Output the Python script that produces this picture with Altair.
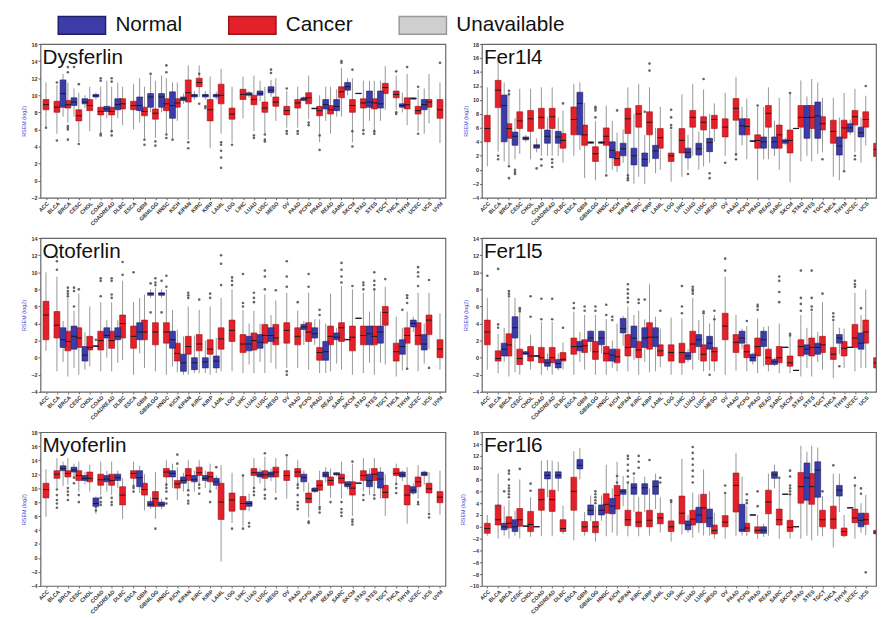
import altair as alt
import pandas as pd

CATS = ["ACC","BLCA","BRCA","CESC","CHOL","COAD","COADREAD","DLBC","ESCA","GBM","GBMLGG","HNSC",
        "KICH","KIPAN","KIRC","KIRP","LAML","LGG","LIHC","LUAD","LUSC","MESO","OV","PAAD","PCPG",
        "PRAD","READ","SARC","SKCM","STAD","STES","TGCT","THCA","THYM","UCEC","UCS","UVM"]
NORMAL_CATS = ["BLCA","BRCA","CESC","CHOL","COAD","COADREAD","ESCA","GBM","GBMLGG","HNSC","KICH",
               "KIPAN","KIRC","KIRP","LIHC","LUAD","LUSC","PAAD","PCPG","PRAD","READ","SARC","SKCM",
               "STAD","STES","THCA","THYM","UCEC"]
GROUPS = ["Normal", "Cancer", "Unavailable"]
COLORS = ["#3c3ca8", "#e4202a", "#cfcfcf"]
EDGES = ["#20206a", "#9a1418", "#999999"]

# (lower whisker, q1, median, q3, upper whisker)
DYSF_C = [(6.3,8.3,8.9,9.5,11.5),(5.5,8.0,8.6,9.3,11.2),(6.8,8.5,8.9,9.4,11.5),(4.5,7.0,7.6,8.3,10.3),
          (5.8,8.2,8.8,9.5,11.0),(5.6,7.7,8.1,8.6,11.0),(5.6,7.7,8.1,8.6,11.0),(6.5,8.4,9.0,9.6,11.0),
          (6.0,8.3,8.8,9.3,11.3),(5.0,7.6,8.1,8.6,11.0),(5.0,7.2,7.9,8.4,11.7),(5.5,8.2,9.0,9.6,12.0),
          (7.0,8.6,9.1,9.6,11.5),(4.8,9.2,10.3,11.8,13.5),(9.8,11.0,11.5,12.0,13.5),(3.8,7.0,8.3,9.5,12.2),
          (5.5,9.0,10.0,11.3,13.1),(4.5,7.2,7.8,8.5,11.0),(7.3,9.5,10.1,10.7,12.2),(5.8,8.9,9.5,10.0,12.3),
          (5.5,8.0,8.5,9.2,11.0),(7.0,8.7,9.2,9.8,12.0),(6.2,7.7,8.2,8.7,10.5),(6.2,8.5,9.1,9.5,11.0),
          (7.2,9.0,9.7,10.3,12.3),(4.5,7.6,8.2,8.7,10.0),(5.5,7.8,8.3,8.8,11.0),(7.5,9.7,10.4,11.0,13.2),
          (4.5,8.0,8.8,9.5,12.0),(6.0,8.5,9.1,9.6,11.7),(5.5,8.4,9.1,9.6,11.7),(8.3,10.2,10.9,11.4,13.4),
          (8.3,9.7,10.1,10.5,12.3),(6.5,8.4,8.9,9.7,12.5),(5.8,7.8,8.2,8.7,10.7),(6.7,8.6,9.2,9.5,12.5),
          (4.4,7.3,8.3,9.5,11.5)]
DYSF_N = [(7.5,8.6,10.2,11.8,12.5),(7.5,8.8,9.2,9.7,10.8),(8.5,9.0,9.2,9.6,10.0),(9.5,9.8,9.95,10.1,10.3),
          (7.3,8.1,8.4,8.7,11.7),(7.3,8.3,8.9,9.6,11.5),(6.8,8.2,8.8,9.8,12.0),(8.0,8.6,9.8,10.2,12.3),
          (8.0,8.6,9.8,10.2,12.3),(5.0,7.3,8.8,10.4,11.5),(9.0,9.4,9.6,9.8,10.2),(9.5,9.8,10.0,10.1,10.5),
          (9.5,9.8,10.0,10.1,10.5),(9.5,9.8,10.0,10.1,10.4),(9.7,10.0,10.1,10.3,10.5),(9.3,10.0,10.2,10.5,11.7),
          (9.8,10.3,10.6,11.0,11.8),(9.3,9.4,9.6,9.7,9.9),(8.4,8.4,8.45,8.5,8.5),(7.0,8.4,8.9,9.5,11.0),
          (7.5,8.2,8.7,9.5,10.7),(10.0,10.6,11.0,11.5,12.0),(10.2,10.2,10.2,10.25,10.25),(7.0,8.6,9.2,10.5,11.7),
          (7.0,8.5,9.0,10.5,11.7),(8.0,8.6,8.8,9.0,10.3),(9.5,9.55,9.6,9.7,9.7),(5.5,8.3,8.9,9.5,10.8)]
DYSF_OC = {"ACC":[6.2],"BLCA":[4.7,11.5],"BRCA":[6.0,6.2,6.4,4.8,12.7,13.3],"CESC":[4.3,11.3],
           "COAD":[5.3,5.5,12.0,11.7],"COADREAD":[5.3,5.8,12.0,11.6],"GBM":[4.2,4.8],"GBMLGG":[4.1,4.6],
           "HNSC":[5.0,5.4,12.7,13.5],"KIPAN":[4.5,3.8],"KIRC":[9.0,12.5],"LAML":[4.5,4.2,3.5,2.7,1.5],
           "LGG":[4.2],"LUAD":[5.3,5.0],"LUSC":[4.6,4.8,5.4],"OV":[5.5,5.8,10.8],"PAAD":[5.5,5.8],
           "PCPG":[6.5,6.8],"PRAD":[3.6,5.3],"SARC":[14.0,13.8],"SKCM":[4.0,5.8,13.0],"STAD":[5.5,5.9],
           "STES":[5.5,5.8],"THCA":[7.8,8.0,12.8],"THYM":[13.3],"UCEC":[11.0,5.5],"UVM":[13.8]}
DYSF_ON = {"BRCA":[13.3],"GBM":[12.5],"LUSC":[12.6,13.0],"KIRC":[8.7,8.5],"HNSC":[4.8]}

FER1L4_C = [(0.5,4.0,5.9,7.8,11.8),(2.6,8.9,11.4,12.8,15.6),(0.7,4.5,5.9,6.6,11.1),(2.3,5.9,7.0,8.3,11.6),
            (1.5,5.5,7.3,8.5,11.6),(2.0,5.9,7.5,8.8,11.8),(2.0,5.9,7.6,8.8,11.8),(1.0,3.1,4.2,5.2,8.5),
            (2.0,5.0,7.2,9.0,12.3),(-1.2,3.5,5.0,6.4,9.6),(-1.5,1.2,2.3,3.3,7.0),(-0.5,3.5,4.8,6.0,9.2),
            (-0.3,0.6,1.6,2.6,5.3),(-1.5,5.2,7.3,8.8,11.8),(-1.0,6.1,8.0,9.2,12.3),(1.0,5.0,6.8,8.3,11.8),
            (0.0,3.1,4.6,5.9,9.0),(-1.7,1.2,2.0,2.4,5.7),(-1.0,2.4,4.2,5.9,10.8),(2.0,6.1,7.5,8.5,12.3),
            (0.5,5.7,6.8,7.6,11.5),(4.0,5.9,7.2,7.8,9.5),(2.0,4.7,6.1,7.3,11.0),(2.0,7.1,8.8,10.2,13.3),
            (1.5,5.0,6.2,7.3,10.2),(-1.5,3.1,4.2,5.0,9.0),(1.5,6.1,8.1,9.2,11.8),(0.0,3.1,5.0,6.4,10.3),
            (-1.8,2.4,4.2,5.7,11.0),(1.2,6.1,7.5,9.2,12.8),(1.2,5.9,7.5,9.2,13.0),(2.5,5.7,6.6,7.6,10.3),
            (-1.0,3.8,5.5,7.1,10.3),(0.0,4.5,6.0,7.1,11.0),(2.5,6.4,7.6,8.5,11.6),(3.5,6.1,7.2,8.3,10.6),
            (0.0,1.9,2.9,3.8,6.0)]
FER1L4_N = [(1.2,4.0,9.2,10.7,12.5),(1.5,3.5,4.8,5.4,7.4),(4.0,4.3,4.5,4.7,5.0),(2.5,3.1,3.4,3.6,4.5),
            (2.0,3.8,4.8,5.7,7.5),(2.0,3.8,4.7,5.5,7.5),(2.8,5.0,9.5,11.1,12.5),(3.7,3.8,3.9,4.0,4.1),
            (3.7,3.8,3.9,4.0,4.1),(0.0,1.7,2.8,4.0,7.0),(1.0,2.0,3.0,3.8,5.8),(-2.0,0.7,2.0,3.1,8.0),
            (-2.0,0.5,1.5,2.4,5.0),(-0.5,1.6,2.7,3.5,6.0),(0.0,1.7,2.5,3.1,5.0),(0.0,2.1,3.0,3.8,5.5),
            (1.0,2.6,3.9,4.5,8.0),(3.5,5.0,6.3,7.3,9.0),(4.0,4.05,4.1,4.15,4.2),(1.5,3.1,4.0,4.7,9.0),
            (2.0,3.1,4.0,4.7,7.0),(3.5,3.8,4.1,4.3,4.6),(5.9,5.9,5.9,5.95,5.95),(2.0,4.5,7.5,9.2,10.5),
            (2.3,4.5,7.7,9.7,12.5),(-1.5,2.1,3.4,4.7,7.5),(5.0,5.4,6.0,6.6,7.2),(1.0,4.7,5.3,6.1,7.5)]
FER1L4_OC = {"BLCA":[1.5,2.0],"BRCA":[11.3,10.8,-1.2,0.5],"COAD":[1.5,0.6],"COADREAD":[1.0,0.4,1.5],
             "DLBC":[9.5],"GBMLGG":[8.5,9.0,7.5,8.8],"HNSC":[-0.8],"KICH":[8.5],"KIPAN":[-1.2,-0.8,-1.5],
             "KIRP":[15.2,14.2],"LGG":[8.6,7.5,6.0,6.4],"LUSC":[13.0],"OV":[1.0],"PAAD":[1.5,2.2],
             "PRAD":[9.2],"SKCM":[11.0],"TGCT":[1.5],"THYM":[-0.2],"UCEC":[2.0,1.5],"UCS":[12.0]}
FER1L4_ON = {"BRCA":[-0.3,-0.6,0.0],"CHOL":[0.2],"LIHC":[-0.6],"LUSC":[-0.5,-1.2],"KIRC":[8.3]}

OTOF_C = [(0.8,2.1,5.0,6.6,10.0),(-1.6,2.3,3.8,5.4,9.5),(-2.2,0.8,1.9,3.1,7.0),(-2.0,1.2,2.3,3.5,7.5),
          (-1.0,0.9,1.2,2.5,6.0),(-1.6,0.9,2.0,3.1,6.5),(-1.6,1.1,2.0,3.1,6.5),(-0.3,2.3,4.0,5.0,9.0),
          (-2.0,1.1,2.5,3.7,6.5),(-1.2,2.1,3.0,4.4,7.4),(-1.6,1.5,3.0,4.1,8.2),(-2.0,1.7,3.0,4.1,8.0),
          (-1.7,-0.4,0.5,1.7,3.3),(-2.0,0.4,1.3,2.5,6.0),(-1.8,0.8,1.6,2.7,5.6),(-2.0,0.4,1.0,2.1,6.0),
          (-1.6,1.0,2.2,3.5,7.0),(-1.6,1.9,3.2,4.4,8.0),(-1.8,0.6,1.6,2.7,5.6),(-1.8,0.9,2.0,2.9,5.5),
          (-1.8,1.7,2.6,3.9,7.4),(-1.3,1.5,2.3,3.9,6.7),(-1.2,1.7,3.2,4.1,7.6),(-1.2,1.5,2.5,3.5,5.5),
          (-1.4,1.9,3.0,4.1,7.6),(-1.8,-0.3,0.6,1.2,4.5),(-1.6,1.5,2.5,3.7,7.5),(-1.4,1.9,3.5,4.1,8.4),
          (-2.0,0.8,2.4,3.7,8.0),(-1.8,1.5,2.6,3.7,7.6),(-2.0,1.5,2.5,3.7,8.0),(-0.8,3.8,5.3,6.0,8.3),
          (-2.2,-0.4,0.7,1.7,4.8),(-1.4,1.7,2.6,3.5,5.4),(-1.6,1.5,2.6,4.1,7.6),(1.0,2.7,4.4,5.0,7.6),
          (-1.4,0.0,1.0,2.1,5.2)]
OTOF_N = [(-0.5,1.2,2.1,3.5,4.3),(-1.2,1.0,2.5,3.7,5.5),(-1.4,-0.4,0.3,1.3,3.0),(1.3,1.3,1.35,1.4,1.4),
          (0.0,2.3,2.6,3.5,4.4),(-0.6,2.1,2.5,3.5,4.4),(0.5,2.1,3.0,4.1,7.0),(7.0,7.3,7.5,7.6,8.0),
          (7.0,7.3,7.5,7.6,8.0),(-1.0,1.1,2.1,3.1,5.6),(-2.0,-1.6,-0.6,0.4,2.5),(-1.8,-1.4,-0.6,0.0,2.6),
          (-1.8,-1.2,-0.5,0.0,2.0),(-1.8,-1.2,-0.4,0.2,2.3),(-0.8,0.8,1.6,2.5,4.0),(-0.5,1.1,1.8,2.7,4.0),
          (-0.6,1.9,2.6,3.5,5.0),(1.5,3.3,3.6,3.9,4.3),(1.5,2.3,2.8,3.5,4.5),(-1.8,-0.3,0.7,1.9,4.0),
          (-0.7,2.1,2.4,2.9,3.5),(2.1,2.1,2.1,2.15,2.15),(4.6,4.6,4.6,4.65,4.65),(-0.6,1.5,2.8,3.7,5.4),
          (-0.6,1.7,3.0,3.7,5.4),(-1.5,0.4,1.3,2.1,3.5),(3.0,3.6,4.0,4.4,4.8),(-0.7,0.9,1.6,2.7,4.0)]
OTOF_OC = {"BLCA":[10.3,11.3,11.8],"BRCA":[7.2,7.5,7.8,8.2],"CESC":[8.0],"COAD":[7.2,9.3,9.0],
           "COADREAD":[7.0,7.4,9.3,9.0],"DLBC":[9.7,11.2],"ESCA":[10.0],"GBMLGG":[8.5,8.8,9.3],
           "HNSC":[8.3,9.6],"KIPAN":[7.0,7.3,7.6],"KIRC":[6.8],"KIRP":[7.0,7.5],"LAML":[8.5,11.0,12.0],
           "LGG":[8.5,9.0,9.4],"LIHC":[6.0,6.4,9.8],"LUAD":[6.5,7.0,7.6],"LUSC":[8.0,9.5,10.2],
           "MESO":[7.9],"OV":[8.3,9.5,11.3,-1.6,-2.0],"PAAD":[6.5],"PCPG":[9.8,8.3],"PRAD":[5.6,5.0],
           "SARC":[8.8,9.5,10.3,11.1],"SKCM":[8.4],"STAD":[8.0,8.5,8.8],"STES":[8.0,8.5,9.0,10.0],
           "TGCT":[9.2],"THYM":[6.4,7.0,7.3,-1.3],"UCEC":[8.4,9.5,10.0,10.6],"UCS":[9.1,-1.2]}
OTOF_ON = {"BRCA":[7.8,8.2,6.0],"GBM":[8.7,5.3],"GBMLGG":[5.3,9.0],"THCA":[5.6],"CHOL":[2.1]}

FER1L5_C = [(-1.4,1.5,3.0,4.4,7.0),(-1.8,-0.4,-0.1,0.8,2.8),(-2.2,0.2,1.5,2.8,7.0),(-2.0,-0.8,-0.1,1.0,5.2),
            (-1.4,-0.4,0.2,1.3,2.7),(-2.0,-0.6,0.0,1.2,4.2),(-2.0,-0.6,0.0,1.2,4.2),(-1.4,-0.4,-0.2,0.6,1.8),
            (-2.0,0.4,1.3,2.3,5.4),(-1.4,0.6,1.4,2.1,5.0),(-2.0,-0.2,0.7,1.9,5.0),(-2.0,-0.4,0.5,1.3,4.5),
            (-1.6,-0.6,0.1,1.0,4.0),(-1.6,0.2,1.2,2.7,6.0),(-2.0,0.0,0.9,1.9,5.5),(-1.7,1.0,2.4,4.1,8.6),
            (-1.1,0.2,0.8,1.5,3.4),(-2.0,-0.4,0.6,1.5,4.7),(-2.0,-0.6,0.6,1.7,4.6),(-1.4,0.6,1.6,3.1,7.0),
            (-1.6,-0.4,0.4,1.5,5.0),(-1.6,-0.4,0.7,1.2,5.0),(-2.0,2.1,3.7,5.2,9.5),(-1.5,0.6,1.8,2.7,5.0),
            (-1.6,0.0,0.7,1.5,3.7),(-1.8,0.2,1.3,2.3,4.6),(-1.6,-0.8,0.0,1.0,3.7),(-1.8,-0.6,0.0,1.3,4.0),
            (-1.8,-1.0,-0.6,0.2,2.5),(-2.2,0.2,1.3,2.1,5.0),(-2.2,0.2,1.2,2.3,5.4),(-1.4,0.6,1.5,2.5,6.5),
            (-2.4,-0.2,0.4,1.2,4.2),(-1.2,0.2,1.1,1.9,3.4),(-1.6,1.2,2.3,3.9,7.6),(-1.2,1.7,3.0,4.4,8.0),
            (-2.0,-1.2,-0.6,0.0,1.3)]
FER1L5_N = [(-0.5,0.2,1.0,1.7,3.5),(-1.7,2.3,3.5,4.8,7.0),(0.3,0.4,0.5,0.7,0.8),(0.15,0.15,0.2,0.25,0.25),
            (-1.5,-1.0,-0.6,-0.2,0.5),(-1.5,-1.2,-0.7,-0.2,0.5),(-0.5,0.8,1.3,1.9,3.0),(0.7,1.9,2.3,3.1,3.2),
            (0.5,1.5,2.3,3.1,3.2),(-1.2,-0.4,0.3,1.0,2.0),(1.4,2.9,3.4,4.6,4.9),(-0.3,1.2,2.3,3.7,5.0),
            (-0.5,1.2,2.3,3.5,4.5),(-1.6,1.3,2.4,3.5,4.8),(-0.5,-0.2,0.2,0.6,1.0),(-0.3,1.3,2.1,2.7,4.4),
            (-1.5,1.0,1.7,2.5,4.0),(1.0,1.7,2.3,3.1,3.4),(-0.8,-0.4,0.0,0.4,0.6),(-1.0,1.3,2.1,3.1,3.6),
            (-1.0,-0.8,-0.5,-0.2,0.0),(1.2,1.2,1.2,1.25,1.25),(-1.5,-1.5,-1.5,-1.45,-1.45),(-1.2,0.4,1.0,1.5,3.5),
            (-0.5,0.4,1.2,1.7,3.0),(0.4,1.7,2.3,2.7,3.5),(1.2,1.2,1.2,1.25,1.25),(-1.2,1.0,1.7,2.9,5.0)]
FER1L5_OC = {"ACC":[9.6],"BLCA":[3.5,3.9,10.4],"BRCA":[7.2,7.5,7.8],"CESC":[5.4,5.6,5.8],"CHOL":[4.8,7.2],
             "COAD":[4.5,6.9],"COADREAD":[4.5,6.9],"DLBC":[3.5],"ESCA":[5.8,6.4],"GBM":[5.5,6.0],
             "GBMLGG":[5.5,6.0],"HNSC":[5.0,6.2],"KIPAN":[6.5,7.0,7.5,8.0,8.6],"KIRC":[6.4,6.8],
             "LAML":[5.5],"LIHC":[5.2,6.0,8.4],"LUAD":[7.5,7.8,8.0,8.3],"LUSC":[5.2,5.4],"MESO":[4.5,5.5],
             "OV":[10.2,11.6],"PCPG":[4.3],"PRAD":[5.6,6.0,6.2],"SARC":[6.5,7.7,9.0,9.5],"SKCM":[2.6,2.8],
             "STAD":[5.5,6.3,7.0,10.2],"STES":[5.6,6.0,7.0,10.2],"TGCT":[7.5],"THCA":[4.4,4.8,5.2],
             "UCEC":[8.3,8.6,9.0]}
FER1L5_ON = {"HNSC":[4.4,4.8],"LUSC":[-2.0],"THCA":[-1.0],"UCEC":[5.8],"KIRC":[6.8]}

MYOF_C = [(5.9,8.6,9.8,10.7,12.7),(10.0,11.4,12.0,12.5,14.3),(10.5,11.6,12.1,12.5,14.3),(9.5,11.1,11.8,12.5,13.8),
          (9.5,10.9,11.4,12.3,13.3),(9.0,10.4,11.2,12.0,13.8),(9.0,10.4,11.1,12.0,13.8),(5.6,7.6,9.0,10.2,11.4),
          (10.0,11.4,12.1,12.5,13.8),(6.8,9.0,9.8,10.7,12.0),(5.6,7.4,8.5,9.5,12.3),(10.0,11.6,12.3,12.8,14.0),
          (8.3,10.0,10.6,11.1,13.0),(9.5,11.1,11.8,12.8,14.0),(10.5,11.8,12.2,13.0,14.0),(9.5,10.9,11.6,12.3,13.5),
          (-0.5,5.5,8.0,10.7,13.3),(5.0,6.7,8.3,9.3,12.2),(4.5,6.9,7.8,8.8,12.0),(10.0,11.8,12.2,12.8,14.3),
          (10.0,11.4,11.9,12.5,14.5),(9.3,11.6,12.3,13.0,14.3),(8.5,11.1,11.8,12.5,14.5),(10.0,11.6,12.3,12.8,14.0),
          (5.8,7.9,8.5,9.3,10.8),(7.5,9.7,10.4,11.1,12.5),(8.6,10.4,11.1,11.6,12.8),(8.5,10.7,11.4,12.0,13.8),
          (6.0,9.0,10.0,10.9,13.5),(9.5,11.1,11.8,12.5,14.3),(9.3,11.1,12.0,12.8,14.3),(6.0,8.6,9.4,10.4,12.0),
          (10.6,11.8,12.1,12.8,13.5),(4.9,7.6,9.0,10.4,13.0),(8.5,10.2,10.9,11.6,13.3),(6.5,9.3,9.9,10.7,12.3),
          (6.2,7.9,8.7,9.5,12.5)]
MYOF_N = [(10.3,12.5,12.8,13.2,13.8),(11.5,12.3,12.6,13.0,13.5),(10.5,11.1,11.4,11.8,12.3),(6.3,7.4,7.8,8.6,8.8),
          (9.5,10.9,11.3,11.8,12.5),(10.0,11.1,11.5,12.0,12.5),(9.3,10.2,11.5,12.5,13.2),(7.0,7.4,7.7,8.1,8.7),
          (7.0,7.4,7.7,8.0,8.5),(10.0,11.6,12.1,12.5,13.5),(9.5,10.7,11.1,11.6,12.2),(9.5,10.9,11.2,11.8,12.5),
          (10.0,11.1,11.4,11.8,12.5),(9.8,10.4,10.9,11.4,11.8),(6.7,7.4,7.8,8.1,9.2),(10.7,11.6,11.9,12.3,12.8),
          (11.0,11.6,12.0,12.3,12.8),(9.5,10.9,11.5,12.0,12.5),(9.3,9.5,9.7,10.0,10.2),(10.8,11.6,11.9,12.3,13.0),
          (11.7,11.9,12.0,12.2,12.3),(9.8,10.2,10.5,10.9,11.0),(10.7,10.7,10.7,10.75,10.75),(9.0,10.2,11.1,12.0,12.8),
          (8.5,10.0,11.3,12.3,13.0),(11.0,11.6,11.9,12.3,12.5),(9.0,9.3,9.7,10.2,10.7),(10.5,11.8,12.0,12.3,12.5)]
MYOF_OC = {"BLCA":[7.2,7.8,8.3,9.0,9.8],"BRCA":[8.3,9.0,9.5,10.0],"CESC":[8.0,9.0],"COAD":[7.6,8.0,8.6],
           "COADREAD":[7.6,8.0,8.6],"ESCA":[9.5,10.0,10.3],"GBMLGG":[4.2],"HNSC":[7.8,8.5,9.5,10.0,10.5],
           "KICH":[14.8,13.5],"KIPAN":[7.8,8.2,9.0,9.7],"KIRC":[9.2,10.0,10.5],"KIRP":[8.0,9.5],"LGG":[4.2],
           "LIHC":[4.2,11.8],"LUAD":[9.0,9.5,10.0],"LUSC":[8.5,9.0,9.8,15.0],"MESO":[8.5],"OV":[14.7],
           "PAAD":[7.0,7.5,8.0,9.0,10.0,10.5],"PCPG":[5.0,5.2],"PRAD":[6.5,7.0,7.3],"READ":[8.0],
           "SARC":[6.0,6.5,7.0,8.0],"SKCM":[4.8,5.2,5.5,13.8],"STAD":[8.3,9.0],"STES":[8.5,9.0],
           "THCA":[9.3,10.0,10.6],"UCEC":[7.7,8.0],"UCS":[5.8,6.3]}
MYOF_ON = {"CHOL":[6.8,7.3],"LIHC":[4.5,5.0],"BRCA":[10.7,11.5],"KIRP":[13.0]}

FER1L6_C = [(-1.5,-1.1,-0.3,0.6,2.0),(-2.0,0.3,1.2,3.7,9.0),(-2.0,-0.2,0.6,1.7,4.5),(-2.0,0.1,1.2,3.1,8.0),
            (-1.7,-0.8,0.4,2.6,5.0),(-1.6,2.8,4.6,6.4,11.2),(-1.6,2.6,4.6,6.2,11.2),(-1.2,-0.8,-0.3,1.2,3.6),
            (-2.3,2.8,6.0,8.4,12.8),(-1.5,-0.8,0.0,0.9,2.5),(-2.5,-1.0,0.0,0.9,3.5),(-1.6,2.3,3.8,5.6,10.5),
            (-1.5,3.0,5.3,7.0,11.0),(-1.6,0.2,1.2,2.8,7.5),(-1.6,0.0,0.8,2.5,5.0),(-1.5,0.0,1.1,2.8,6.5),
            (-1.0,0.5,1.5,2.3,5.0),(-2.5,-0.8,0.0,1.0,4.0),(-1.3,0.5,2.3,5.2,11.5),(-1.8,0.3,1.3,2.8,5.8),
            (-1.5,0.7,3.2,5.5,9.7),(-2.0,-1.2,-0.6,0.3,2.4),(-2.0,0.0,0.8,1.9,5.4),(-1.5,2.5,7.0,9.1,12.5),
            (-1.6,-0.8,-0.2,0.6,3.5),(-2.0,-1.1,-0.6,0.0,2.0),(-1.5,2.2,4.2,6.2,9.0),(-2.0,0.3,1.2,3.0,8.5),
            (-2.0,-0.8,-0.1,1.1,5.5),(-2.0,4.0,6.8,9.2,13.7),(-2.3,3.8,6.8,9.0,13.7),(-1.6,0.0,1.2,2.8,5.2),
            (-3.5,-0.3,1.3,3.5,9.0),(-1.8,-1.5,-0.8,-0.2,2.0),(-2.0,0.7,1.5,3.0,7.0),(-1.4,0.4,1.2,2.3,5.4),
            (-1.5,-1.2,-0.9,-0.6,0.0)]
FER1L6_N = [(-1.5,-0.5,0.0,0.6,3.5),(-1.5,-0.8,0.0,1.2,2.7),(0.1,0.1,0.1,0.15,0.15),(0.0,0.0,0.0,0.05,0.05),
            (5.0,8.1,8.7,9.3,11.3),(6.0,8.2,8.7,9.3,11.0),(8.0,9.8,10.4,11.4,13.3),(1.0,2.0,2.8,3.7,5.3),
            (1.0,2.0,2.8,3.7,5.3),(-1.0,2.2,3.5,4.8,6.5),(3.5,5.5,6.0,6.3,8.6),(2.5,5.5,6.6,7.3,8.5),
            (2.5,5.5,6.6,7.3,8.5),(3.0,5.5,6.8,7.8,9.0),(-1.0,-0.5,0.3,1.0,2.0),(-1.0,0.7,2.0,3.3,5.5),
            (-1.5,0.0,1.5,3.0,6.0),(-1.5,-0.8,-0.5,3.8,8.5),(1.9,1.95,2.0,2.05,2.1),(-1.7,-1.1,-0.6,0.0,0.5),
            (6.5,8.2,8.8,9.3,10.5),(5.5,5.5,5.5,5.55,5.55),(0.0,0.0,0.0,0.05,0.05),(-1.5,4.5,8.3,10.8,12.7),
            (-1.5,5.0,9.6,11.0,13.4),(2.5,5.2,6.2,7.0,9.0),(3.2,3.2,3.2,3.25,3.25),(-1.0,0.0,1.1,2.3,4.0)]
FER1L6_OC = {"BLCA":[3.5],"BRCA":[5.0,5.5,6.0,6.5,7.0,8.0,9.0,9.5],"CESC":[9.8],"CHOL":[6.1,7.3],
             "GBMLGG":[4.0,4.5,5.0,5.5,6.0],"KICH":[8.6,7.5],"KIPAN":[7.5,8.5,9.5,10.5,11.5,12.0],
             "KIRC":[10.0,11.0,12.0],"KIRP":[11.3],"LAML":[7.5,8.3],"LGG":[4.2,4.5],
             "LUAD":[7.5,8.5,9.5,10.5,11.5,12.5,13.5],"OV":[5.7,7.0],"PCPG":[4.0,4.5,5.5],"PRAD":[3.5,6.0],
             "SARC":[8.3],"SKCM":[5.5,6.0,6.5,7.0,8.5,9.5],"TGCT":[6.0],"THCA":[10.4],"UCEC":[7.0,8.3],
             "UCS":[-7.7]}
FER1L6_ON = {"BLCA":[6.0],"KIPAN":[9.0],"UCEC":[5.6,6.5]}

PANELS = [
    ("Dysferlin", DYSF_C, DYSF_N, DYSF_OC, DYSF_ON, -2, 16, False),
    ("Fer1l4", FER1L4_C, FER1L4_N, FER1L4_OC, FER1L4_ON, -4, 18, True),
    ("Otoferlin", OTOF_C, OTOF_N, OTOF_OC, OTOF_ON, -4, 14, False),
    ("Fer1l5", FER1L5_C, FER1L5_N, FER1L5_OC, FER1L5_ON, -4, 14, True),
    ("Myoferlin", MYOF_C, MYOF_N, MYOF_OC, MYOF_ON, -4, 18, False),
    ("Fer1l6", FER1L6_C, FER1L6_N, FER1L6_OC, FER1L6_ON, -10, 16, True),
]

OFF = 0.56  # normal box offset within a slot
HW = 0.27   # half box width (slot units)
LABEL_EXPR = "[" + ",".join("'%s'" % c for c in CATS) + "][datum.value]"

legend = alt.Legend(
    orient="none", legendX=29, legendY=-32, direction="horizontal", columns=3, title=None,
    symbolType="M-2,-0.75H2V0.75H-2Z", symbolSize=576, symbolStrokeColor="#444",
    symbolStrokeWidth=1.5, symbolOpacity=1, labelFontSize=21, labelFont="Liberation Sans",
    labelColor="#111", labelOffset=21, gridAlign="all", columnPadding=2, labelLimit=300,
)


def make_panel(name, cancer, normal, out_c, out_n, ymin, ymax, right):
    rows = []
    for i, (c, s) in enumerate(zip(CATS, cancer)):
        rows.append(dict(cat=c, type="Cancer", x=float(i), lo=s[0], q1=s[1], med=s[2], q3=s[3], hi=s[4]))
    for c, s in zip(NORMAL_CATS, normal):
        i = CATS.index(c)
        rows.append(dict(cat=c, type="Normal", x=i + OFF, lo=s[0], q1=s[1], med=s[2], q3=s[3], hi=s[4]))
    df = pd.DataFrame(rows)
    df["xl"] = df["x"] - HW
    df["xr"] = df["x"] + HW

    orows = []
    for c, vals in out_c.items():
        for v in vals:
            orows.append(dict(x=float(CATS.index(c)), v=v))
    for c, vals in out_n.items():
        for v in vals:
            orows.append(dict(x=CATS.index(c) + OFF, v=v))
    odf = pd.DataFrame(orows)

    xmax = 35.95 if right else 36.5
    width = 400 if right else 411
    xs = alt.Scale(domain=[-0.5, xmax], nice=False, zero=False)
    ys = alt.Scale(domain=[ymin, ymax], nice=False, zero=False)
    xaxis = alt.Axis(values=list(range(len(CATS))), labelExpr=LABEL_EXPR, labelAngle=-45,
                     labelFontSize=5.5, labelFontWeight="bold", labelColor="#333", tickSize=2,
                     domain=False, grid=False, title=None, labelOverlap=False, labelFlush=False,
                     labelPadding=1, tickColor="#666", labelBound=False)
    yaxis = alt.Axis(values=list(range(ymin, ymax + 1, 2)), title="RSEM (log2)", titleColor="#4a4ad0",
                     titleFontSize=5.5, titleFontWeight="normal", labelFontSize=5.5, labelFontWeight="bold",
                     labelColor="#333", tickSize=2.5, domain=False, grid=False, titlePadding=4,
                     labelPadding=1, labelFlush=False, labelOverlap=False, tickColor="#666", labelBound=False)

    base = alt.Chart(df)
    whisk = base.mark_rule(color="#7d7d7d", strokeWidth=0.8, clip=True).encode(
        x=alt.X("x:Q", scale=xs, axis=xaxis),
        y=alt.Y("lo:Q", scale=ys, axis=yaxis),
        y2="hi:Q",
    )
    box = base.mark_rect(strokeWidth=0.6, clip=True).encode(
        x=alt.X("xl:Q", scale=xs, axis=xaxis),
        x2="xr:Q",
        y=alt.Y("q1:Q", scale=ys, axis=yaxis),
        y2="q3:Q",
        color=alt.Color("type:N", scale=alt.Scale(domain=GROUPS, range=COLORS), legend=legend),
        stroke=alt.Stroke("type:N", scale=alt.Scale(domain=GROUPS, range=EDGES), legend=None),
    )
    med = base.mark_rule(color="#1a1a1a", strokeWidth=1, clip=True).encode(
        x=alt.X("xl:Q", scale=xs, axis=xaxis), x2="xr:Q", y=alt.Y("med:Q", scale=ys, axis=yaxis)
    )
    outl = alt.Chart(odf).mark_circle(size=7, color="#555", opacity=0.9, clip=True).encode(
        x=alt.X("x:Q", scale=xs, axis=xaxis), y=alt.Y("v:Q", scale=ys, axis=yaxis)
    )
    ttl = alt.Chart(pd.DataFrame({"t": [name]})).mark_text(
        align="left", baseline="alphabetic", fontSize=21, font="Liberation Sans", color="#111"
    ).encode(x=alt.value(2), y=alt.value(20), text="t:N")
    return alt.layer(whisk, box, med, outl, ttl).properties(width=width, height=156)


panels = [make_panel(*p) for p in PANELS]

chart = alt.concat(*panels, columns=2, spacing={"row": 41, "column": 37}, bounds="flush").properties(
    padding={"left": 13, "top": 0, "right": 0, "bottom": 0}
).configure(font="Liberation Sans").configure_view(stroke="#666", strokeWidth=1.2).configure_axis(
    labelOverlap=False
)

chart.save("out.html", embed_options={"renderer": "svg", "actions": False})
